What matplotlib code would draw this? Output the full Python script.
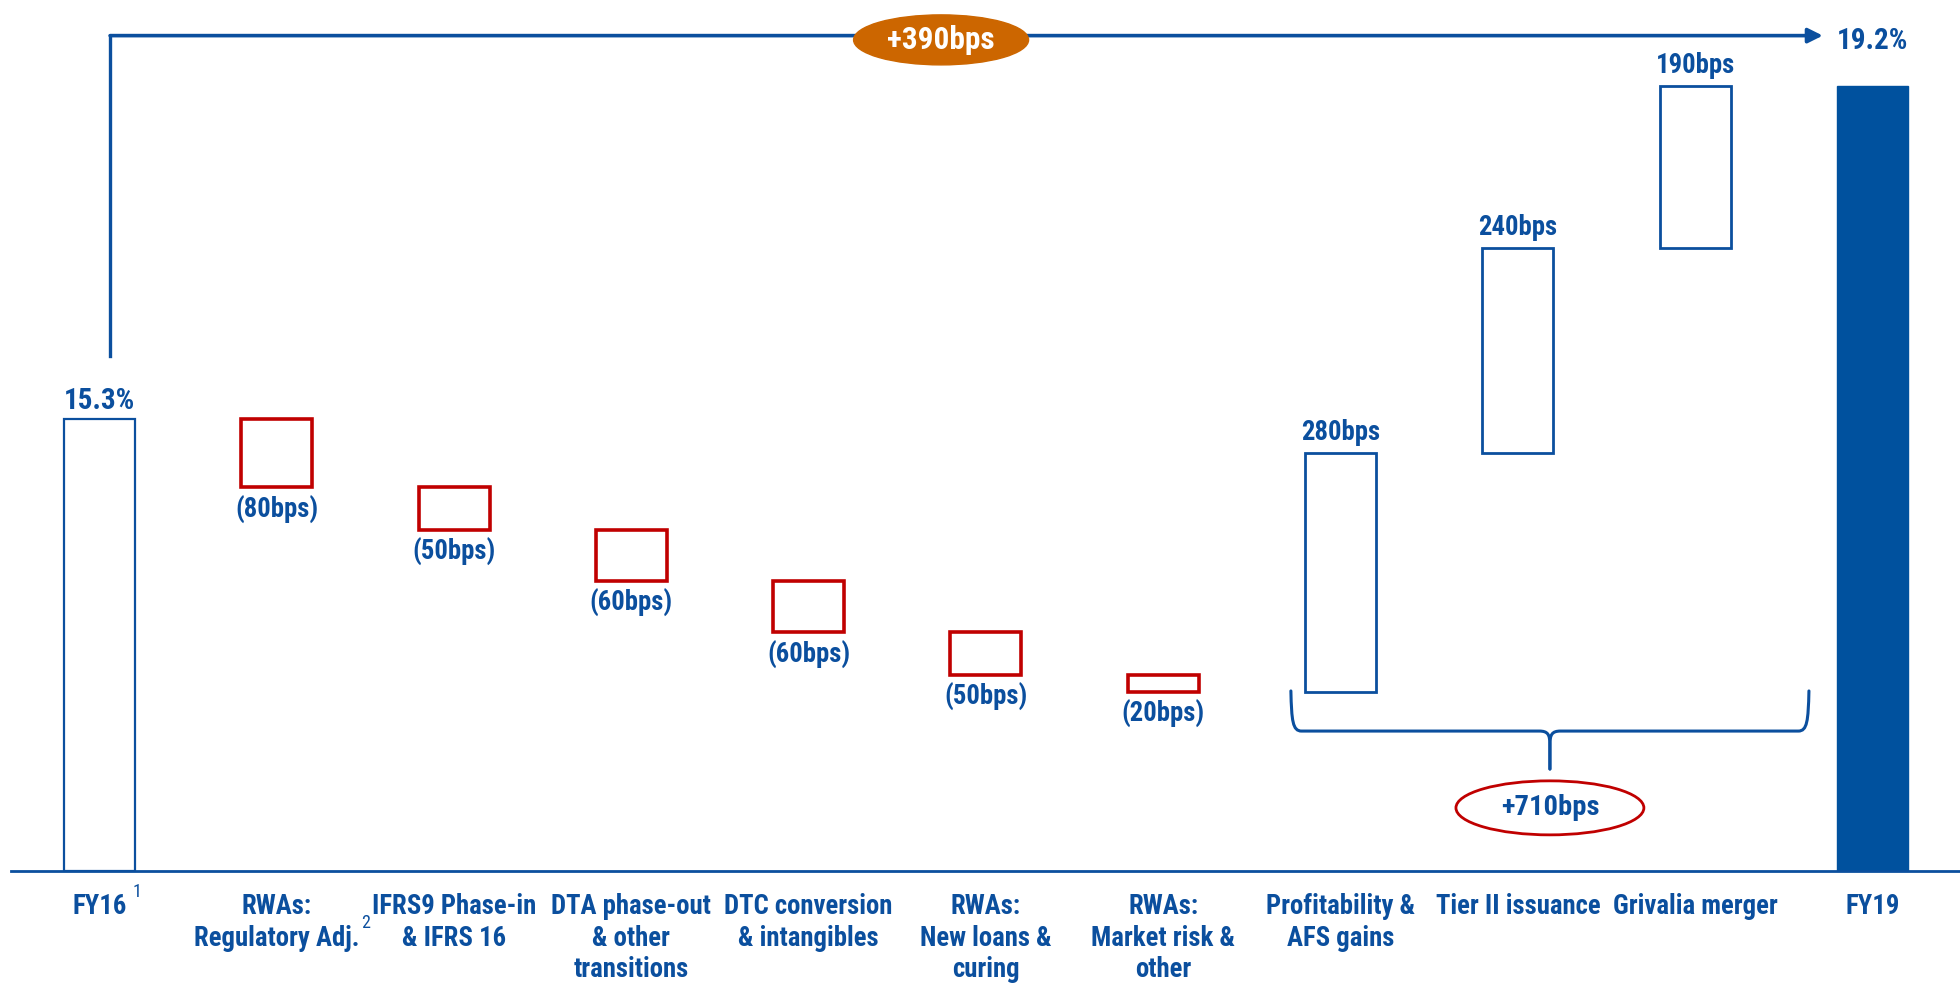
import matplotlib
matplotlib.use("Agg")
import matplotlib.pyplot as plt
from matplotlib.patches import Ellipse, PathPatch
from matplotlib.path import Path
import numpy as np

# ---- data -------------------------------------------------------------
categories = [
    "FY16",
    "RWAs:\nRegulatory Adj.",
    "IFRS9 Phase-in\n& IFRS 16",
    "DTA phase-out\n& other\ntransitions",
    "DTC conversion\n& intangibles",
    "RWAs:\nNew loans &\ncuring",
    "RWAs:\nMarket risk &\nother",
    "Profitability &\nAFS gains",
    "Tier II issuance",
    "Grivalia merger",
    "FY19",
]
footnote_marks = ["1", "2", "", "", "", "", "", "", "", "", ""]
start_value = 15.3          # CET1 ratio, %
change_bps = [-80, -50, -60, -60, -50, -20, 280, 240, 190]
end_value = 19.2            # CET1 ratio, %
axis_floor = 10.0           # value at the base line

# ---- styling ----------------------------------------------------------
BLUE = "#0B4F9E"
BLUE_FILL = "#00519E"
RED = "#C00000"
ORANGE = "#CC6600"
FONT = ["Roboto Condensed", "Lato", "DejaVu Sans"]
plt.rcParams["font.family"] = FONT
plt.rcParams["font.weight"] = "bold"
FS = 19.3
FS_PCT = 21

W, H = 1960, 988
fig = plt.figure(figsize=(W / 100, H / 100), dpi=100)
base_px = 871
ax = fig.add_axes([0, (H - base_px) / H, 1, base_px / H])
ax.set_ylim(axis_floor, axis_floor + base_px / 85.33)
ax.set_xlim(-0.561, 10.494)
ax.axis("off")

# ---- waterfall geometry ----------------------------------------------
steps = np.array(change_bps) / 100.0
levels = start_value + np.concatenate([[0.0], np.cumsum(steps)])
n = len(categories)
x = np.arange(n)
bw = 0.40

# start and end totals
ax.bar(x[0], start_value - axis_floor, bottom=axis_floor, width=bw,
       facecolor="white", edgecolor=BLUE, linewidth=1.6, zorder=3)
ax.bar(x[-1], end_value - axis_floor, bottom=axis_floor, width=bw,
       facecolor=BLUE_FILL, edgecolor=BLUE_FILL, linewidth=1.0, zorder=3)

# floating steps
for i, s in enumerate(steps):
    xi = x[i + 1]
    lo = min(levels[i], levels[i + 1])
    neg = s < 0
    ax.bar(xi, abs(s), bottom=lo, width=bw, facecolor="white",
           edgecolor=RED if neg else BLUE, linewidth=2.6 if neg else 2.0,
           zorder=3)
    bps = change_bps[i]
    if neg:
        ax.annotate(f"({abs(bps)}bps)", xy=(xi, lo), xytext=(0, -6),
                    textcoords="offset points", ha="center", va="top",
                    color=BLUE, fontsize=FS)
    else:
        ax.annotate(f"{bps}bps", xy=(xi, lo + abs(s)), xytext=(0, 5),
                    textcoords="offset points", ha="center", va="bottom",
                    color=BLUE, fontsize=FS)

ax.annotate(f"{start_value:.1f}%", xy=(x[0], start_value), xytext=(0, 3),
            textcoords="offset points", ha="center", va="bottom",
            color=BLUE, fontsize=FS_PCT)

# base line
ax.axhline(axis_floor, xmin=11 / W, xmax=1, color=BLUE, lw=2.0, zorder=4,
           clip_on=False)

# category labels with footnote markers
for i, (lab, mark) in enumerate(zip(categories, footnote_marks)):
    t = ax.annotate(lab, xy=(x[i], axis_floor), xytext=(0, -16),
                    textcoords="offset points", ha="center", va="top",
                    color=BLUE, fontsize=FS, linespacing=1.22,
                    annotation_clip=False)
    if mark:
        single = "\n" not in lab
        ax.annotate(mark, xy=(1, 1.05 if single else 0.5), xycoords=t,
                    xytext=(4 if single else 1, 0),
                    textcoords="offset points", ha="left", va="center",
                    color=BLUE, fontsize=13, fontweight="normal")

# ---- overall change arrow --------------------------------------------
total_bps = round((end_value - start_value) * 100)
y_top = 19.79
x_left = x[0] + 0.06
x_head = x[-1] - 0.28
ax.plot([x_left, x_left], [start_value + 0.74, y_top],
        color=BLUE, lw=2.4, solid_capstyle="projecting", zorder=2)
ax.annotate("", xy=(x_head, y_top), xytext=(x_left, y_top),
            arrowprops=dict(arrowstyle="-|>", color=BLUE, lw=2.6,
                            mutation_scale=22, shrinkA=0, shrinkB=0),
            zorder=2)
ax.text(x[-1], y_top - 0.06, f"{end_value:.1f}%", ha="center", va="center",
        color=BLUE, fontsize=FS_PCT)
ax.add_patch(Ellipse((4.747, y_top - 0.05), 0.987, 0.586,
                     facecolor=ORANGE, edgecolor=ORANGE, zorder=5))
ax.text(4.747, y_top - 0.05, f"+{total_bps}bps", ha="center", va="center",
        color="white", fontsize=22.5, zorder=6)

# ---- brace over the positive contributions ---------------------------
pos_bps = sum(b for b in change_bps if b > 0)
L, R = 6.72, 9.642
C = (L + R) / 2
yt, yh, yb = 12.11, 11.64, 11.195
rx = 0.06
codes = [Path.MOVETO, Path.CURVE4, Path.CURVE4, Path.CURVE4,
         Path.LINETO, Path.CURVE4, Path.CURVE4, Path.CURVE4, Path.LINETO]
verts_left = [(L, yt), (L + 0.004, yh + 0.12), (L + 0.01, yh), (L + rx, yh),
              (C - rx, yh), (C - 0.012, yh), (C, yh - 0.04), (C, yh - 0.16),
              (C, yb)]
verts_right = [(2 * C - vx, vy) for vx, vy in verts_left]
for verts in (verts_left, verts_right):
    ax.add_patch(PathPatch(Path(verts, codes), facecolor="none",
                           edgecolor=BLUE, lw=2.2, capstyle="round",
                           joinstyle="round", zorder=3))

ax.add_patch(Ellipse((C, 10.74), 1.06, 0.633, facecolor="white",
                     edgecolor=RED, lw=2.0, zorder=5))
ax.text(C, 10.74, f"+{pos_bps}bps", ha="center", va="center",
        color=BLUE, fontsize=20.5, zorder=6)

fig.savefig("out.png", dpi=100, facecolor="white")
